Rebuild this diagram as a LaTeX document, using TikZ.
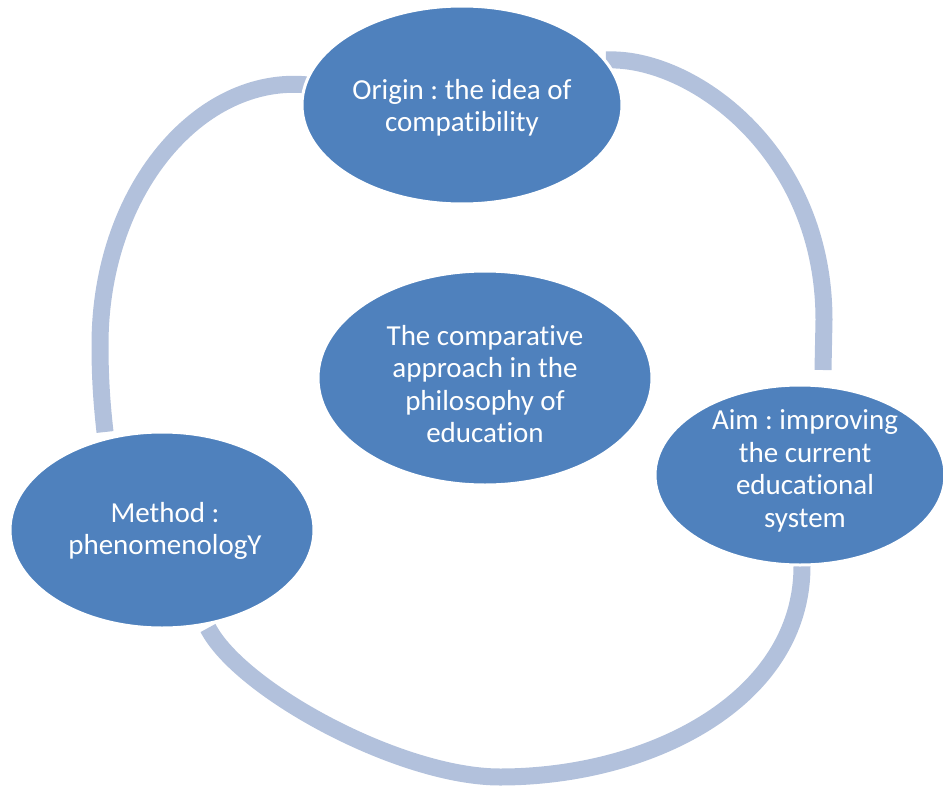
\documentclass[tikz,border=0pt]{standalone}
\usepackage{fontspec}
\setmainfont{Carlito}[Ligatures=NoCommon]
\frenchspacing
\usetikzlibrary{shapes.geometric}
\definecolor{ellblue}{RGB}{79,129,189}
\definecolor{arcblue}{RGB}{178,193,220}
\begin{document}
\begin{tikzpicture}[x=1pt,y=-1pt,
  bubble/.style={ellipse, fill=ellblue, draw=white, line width=3pt, inner sep=0pt},
  arcband/.style={draw=arcblue, line width=17pt, line cap=butt},
  lbl/.style={text=white, align=center, font=\fontsize{29}{32.5}\selectfont, inner sep=0pt}]
\useasboundingbox (0,0) rectangle (943,787);
\clip (0,0) rectangle (943,787);
% arc end points
\coordinate (la) at (308,85);
\coordinate (lb) at (105,432);
\coordinate (ra) at (606,60);
\coordinate (rb) at (823,370);
\coordinate (ba) at (802,566);
\coordinate (bb) at (208,628);
% arcs
\draw[arcband] (la) .. controls (200,74) and (100,190) .. (100,345) .. controls (100,380) and (102,405) .. (lb);
\draw[arcband] (ra) .. controls (690,56) and (824,150) .. (824,320) -- (rb);
\draw[arcband] (ba) .. controls (802,700) and (650,777) .. (500,777) .. controls (400,777) and (240,690) .. (bb);
% ellipses
\node[bubble, minimum width=320pt, minimum height=198pt] (top) at (462,105) {};
\node[bubble, minimum width=334pt, minimum height=214pt] (mid) at (485,378) {};
\node[bubble, minimum width=290pt, minimum height=180pt] (right) at (800,475) {};
\node[bubble, minimum width=304pt, minimum height=196pt] (left) at (162,530) {};
% texts
\node[lbl] (ttop) at (462,108) {Origin : the idea of\\compatibility};
\node[lbl] (tmid) at (485,384) {The comparative\\approach in the\\philosophy of\\education};
\node[lbl] (tright) at (805,471) {Aim : improving\\the current\\educational\\system};
\node[lbl] (tleft) at (165,531) {Method :\\phenomenologY};
\end{tikzpicture}
\end{document}
